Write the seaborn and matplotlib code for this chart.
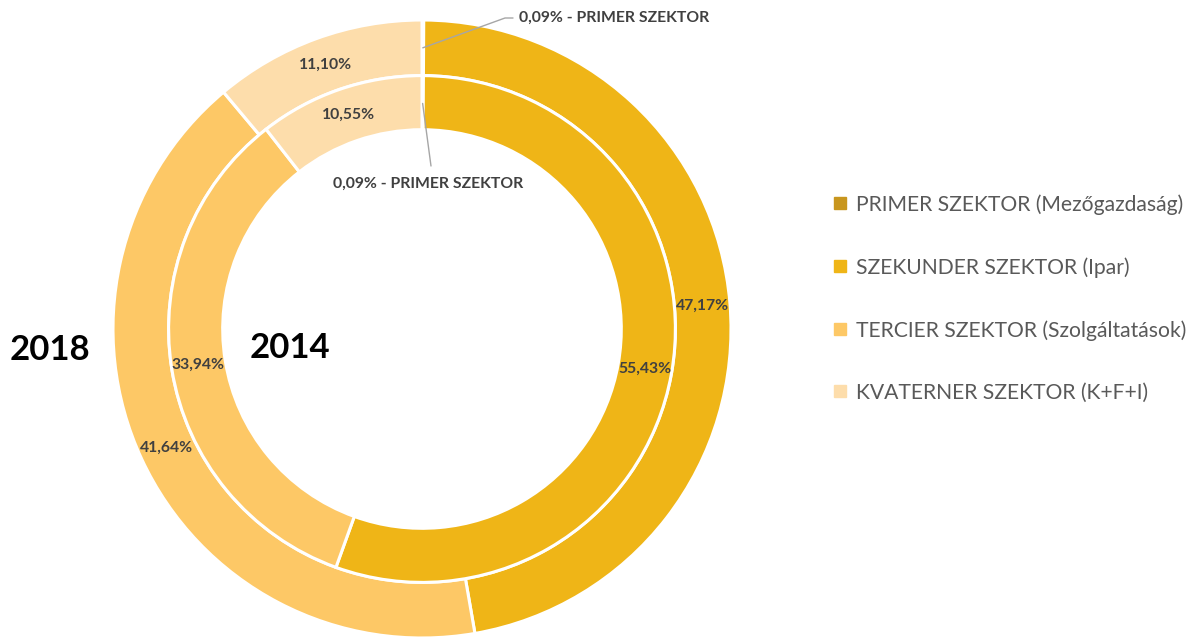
import numpy as np
import matplotlib
matplotlib.use("Agg")
import matplotlib.pyplot as plt
from matplotlib.lines import Line2D
import seaborn as sns

# Sector shares (%), clockwise from 12 o'clock
sectors = [
    "PRIMER SZEKTOR (Mezőgazdaság)",
    "SZEKUNDER SZEKTOR (Ipar)",
    "TERCIER SZEKTOR (Szolgáltatások)",
    "KVATERNER SZEKTOR (K+F+I)",
]
share_2018 = [0.09, 47.17, 41.64, 11.10]
share_2014 = [0.09, 55.43, 33.94, 10.55]
labels_2018 = ["0,09%", "47,17%", "41,64%", "11,10%"]
labels_2014 = ["0,09%", "55,43%", "33,94%", "10,55%"]
colors = ["#C8961E", "#EFB517", "#FDC866", "#FDDDAB"]

sns.set_theme(style="white")
plt.rcParams["font.family"] = ["Lato", "DejaVu Sans"]

W, H = 1191, 637
fig = plt.figure(figsize=(W / 100, H / 100), dpi=100)
ax = fig.add_axes([0, 0, 1, 1])

# pixel-based frame: ring centre at (422, 329), outer radius 309 px
cx, cy, R = 422, 329, 309
xlim = (-cx / R, (W - cx) / R)
ylim = ((cy - H) / R, cy / R)

r_out, w_out = 1.0, 0.18
r_in, w_in = 0.82, 0.175
edge = dict(edgecolor="white", linewidth=2.2)

outer, _ = ax.pie(share_2018, radius=r_out, colors=colors, startangle=90,
                  counterclock=False, wedgeprops=dict(width=w_out, **edge))
inner, _ = ax.pie(share_2014, radius=r_in, colors=colors, startangle=90,
                  counterclock=False, wedgeprops=dict(width=w_in, **edge))
ax.set_xlim(*xlim)
ax.set_ylim(*ylim)
ax.set_aspect("auto")
ax.axis("off")

txt_kw = dict(color="#404040", fontsize=11.3, fontweight="bold",
              ha="center", va="center")


def mid_point(w, r):
    a = np.deg2rad((w.theta1 + w.theta2) / 2)
    return r * np.cos(a), r * np.sin(a)


# percentage labels on the larger wedges
for wedges, labs, r, width in [(outer, labels_2018, r_out, w_out),
                               (inner, labels_2014, r_in, w_in)]:
    for w, lab in list(zip(wedges, labs))[1:]:
        x, y = mid_point(w, r - width / 2)
        ax.text(x, y, lab, **txt_kw)

# leader lines for the thin primary-sector wedges
lc = "#A6A6A6"
x0, y0 = mid_point(outer[0], 0.91)
xa, ya = (505 - cx) / R, (cy - 18) / R
xb = (513 - cx) / R
ax.plot([x0, xa, xb], [y0, ya, ya], color=lc, lw=1.0)
ax.text((519 - cx) / R, ya, f"{labels_2018[0]} - PRIMER SZEKTOR",
        **{**txt_kw, "ha": "left"})

x1, y1 = mid_point(inner[0], 0.73)
xc, yc = (431 - cx) / R, (cy - 166) / R
ax.plot([x1, xc], [y1, yc], color=lc, lw=1.0)
ax.text((428 - cx) / R, (cy - 184) / R, f"{labels_2014[0]} - PRIMER SZEKTOR",
        **txt_kw)

# year captions
ax.text((50 - cx) / R, (cy - 350) / R, "2018", fontsize=25, fontweight="bold",
        color="black", ha="center", va="center")
ax.text((290 - cx) / R, (cy - 348) / R, "2014", fontsize=25, fontweight="bold",
        color="black", ha="center", va="center")

handles = [Line2D([], [], marker="s", linestyle="none", markersize=8.5,
                  markerfacecolor=c, markeredgecolor=c) for c in colors]
leg = fig.legend(handles, sectors, loc="center left",
                 bbox_to_anchor=(834 / W, 1 - 298.5 / H), frameon=False,
                 fontsize=15.2, labelspacing=2.0, handlelength=0.6,
                 handletextpad=0.45, borderpad=0, borderaxespad=0)
for t in leg.get_texts():
    t.set_color("#595959")

fig.savefig("out.png", dpi=100)
